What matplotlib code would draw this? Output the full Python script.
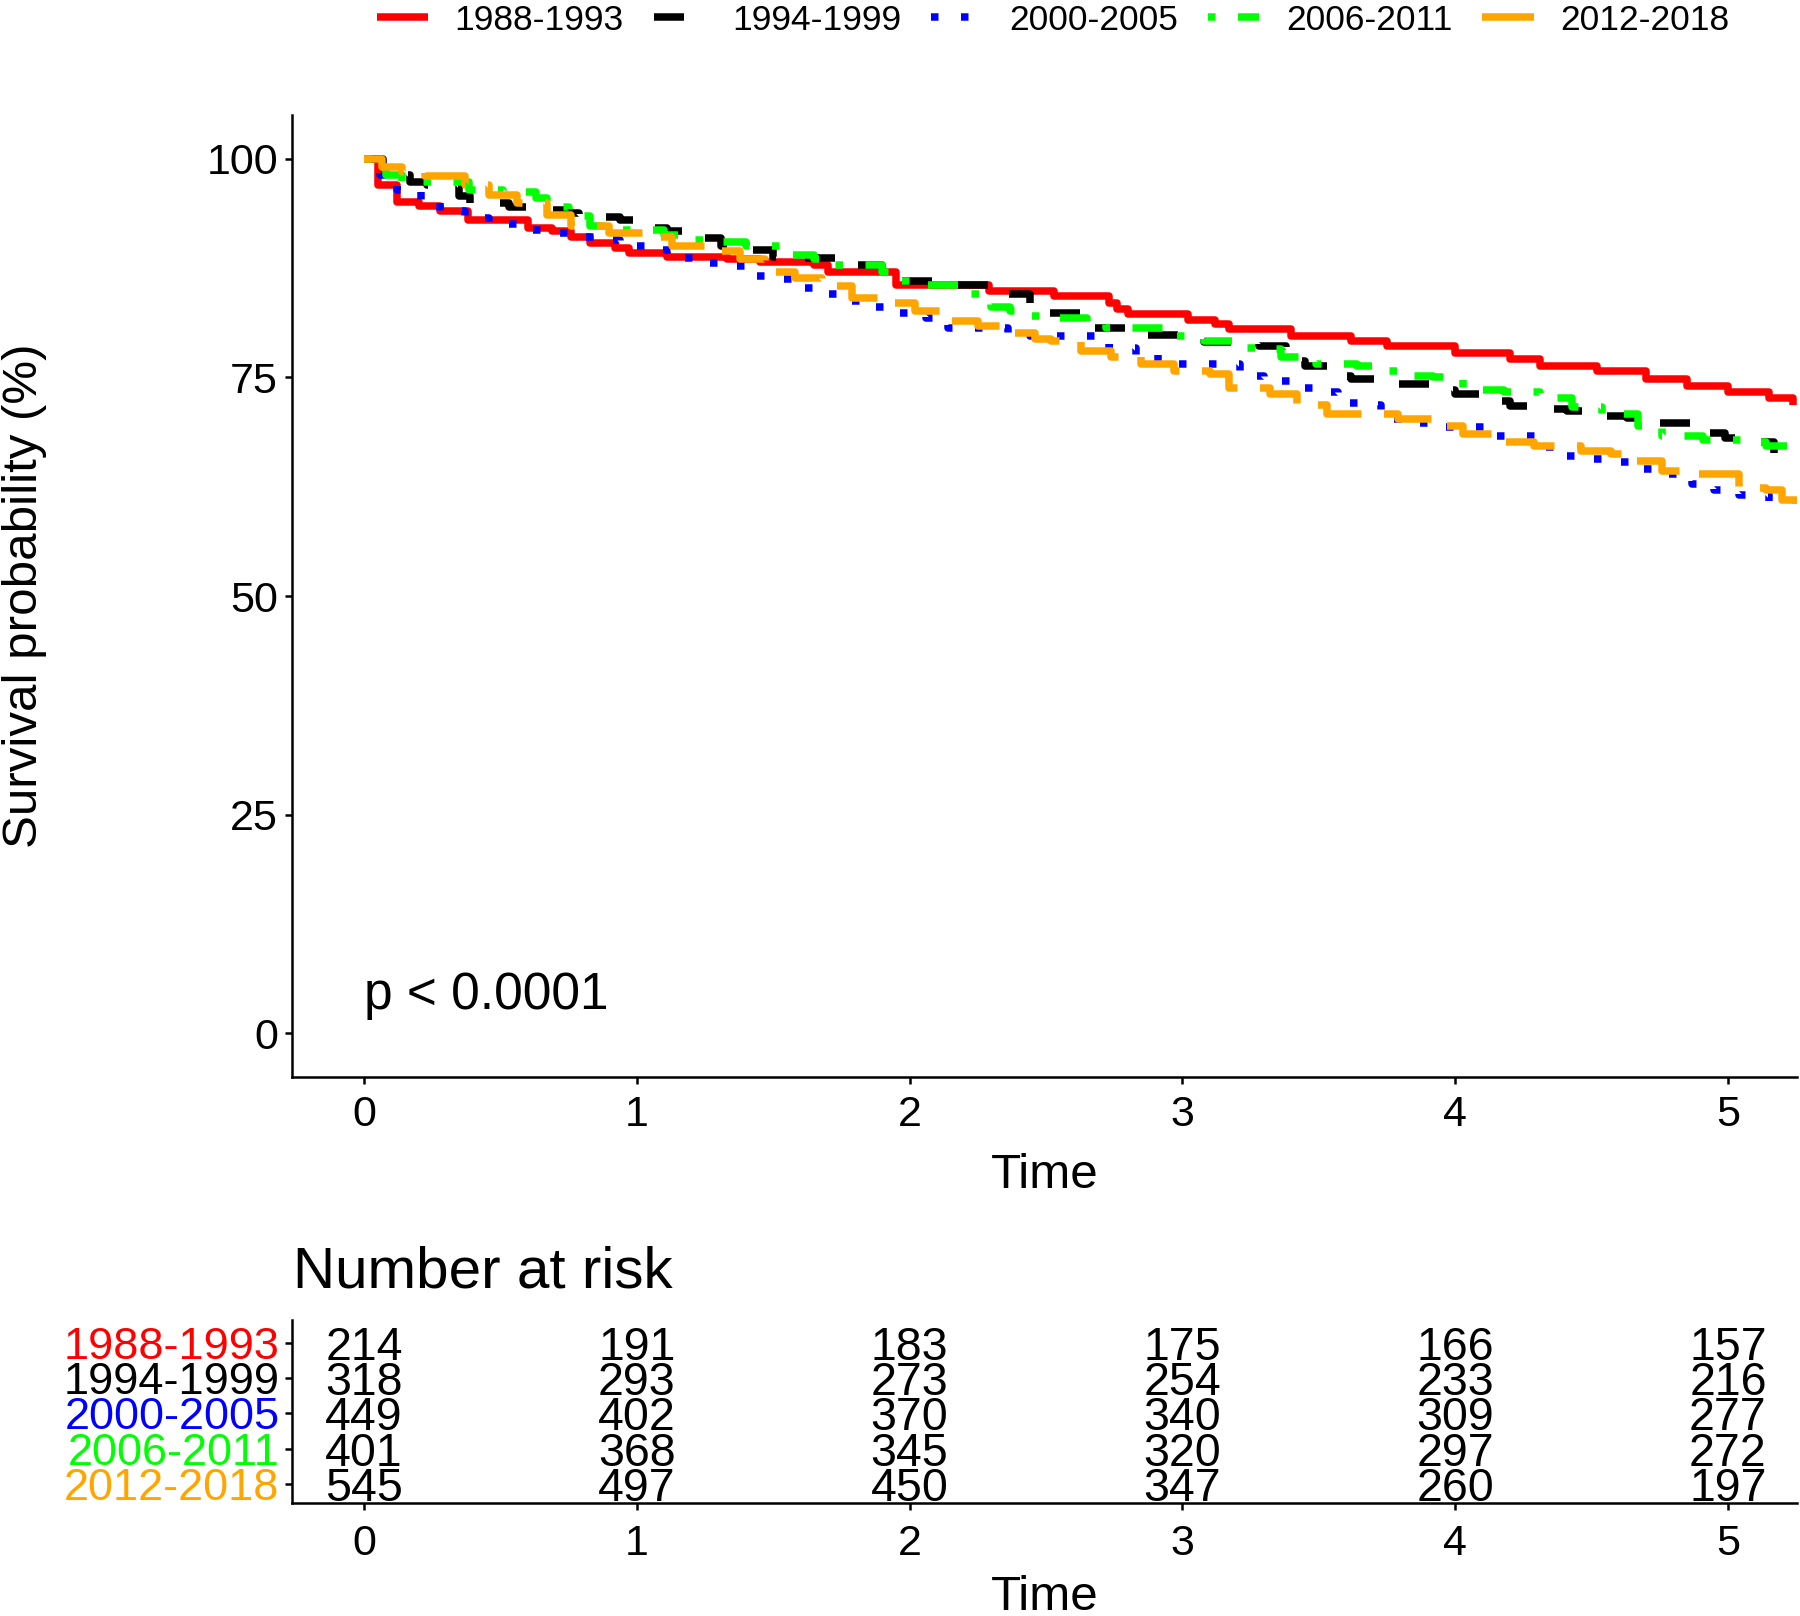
import matplotlib
matplotlib.use("Agg")
import matplotlib.pyplot as plt

plt.rcParams['font.family'] = ['Liberation Sans', 'DejaVu Sans']

# Kaplan-Meier curves: (time, survival %)
km_1988 = [(0, 100), (0.05, 97.0), (0.12, 95.1), (0.2, 94.6), (0.28, 94.0), (0.38, 93.0),
           (0.6, 92.1), (0.69, 91.7), (0.76, 91.0), (0.83, 90.4), (0.92, 89.8), (0.97, 89.2),
           (1.11, 88.8), (1.33, 88.5), (1.45, 88.2), (1.65, 87.9), (1.70, 87.0), (1.95, 85.6),
           (2.29, 84.9), (2.53, 84.3), (2.73, 83.5), (2.76, 82.8), (2.80, 82.2), (3.02, 81.6),
           (3.12, 81.1), (3.17, 80.5), (3.40, 79.7), (3.62, 79.2), (3.75, 78.6), (4.0, 77.8),
           (4.2, 77.1), (4.31, 76.3), (4.52, 75.7), (4.70, 74.8), (4.85, 74.0), (5.0, 73.3),
           (5.15, 72.7), (5.24, 71.9)]
km_1994 = [(0, 100), (0.07, 98.2), (0.17, 97.4), (0.23, 97.0), (0.35, 95.7), (0.39, 94.9),
           (0.53, 94.5), (0.6, 94.2), (0.74, 93.8), (0.79, 93.4), (0.94, 93.0), (0.99, 92.1),
           (1.11, 91.7), (1.17, 90.9), (1.31, 90.0), (1.36, 89.6), (1.5, 88.8), (1.54, 88.6),
           (1.74, 87.9), (1.9, 87.0), (1.95, 86.0), (2.13, 85.6), (2.29, 84.5), (2.44, 83.4),
           (2.5, 82.4), (2.63, 81.6), (2.67, 80.7), (2.8, 80.3), (2.87, 79.9), (3.08, 79.0),
           (3.28, 78.6), (3.38, 76.9), (3.45, 76.3), (3.55, 75.2), (3.62, 74.8), (3.75, 74.2),
           (3.96, 73.6), (4.0, 73.1), (4.14, 72.3), (4.2, 71.7), (4.33, 71.4), (4.41, 71.2),
           (4.54, 70.6), (4.63, 70.4), (4.74, 69.8), (4.93, 68.7), (4.99, 68.1), (5.1, 67.6),
           (5.17, 66.4)]
km_2000 = [(0, 100), (0.03, 99.0), (0.06, 98.2), (0.12, 96.4), (0.21, 95.3), (0.28, 94.0),
           (0.37, 93.2), (0.46, 92.6), (0.56, 91.9), (0.65, 91.5), (0.76, 91.1), (0.85, 90.7),
           (0.94, 90.0), (1.05, 89.6), (1.14, 88.6), (1.23, 88.1), (1.34, 87.7), (1.41, 86.6),
           (1.51, 86.2), (1.59, 85.2), (1.69, 84.5), (1.77, 83.7), (1.87, 83.1), (1.96, 82.4),
           (2.06, 81.8), (2.14, 80.7), (2.36, 79.9), (2.44, 79.7), (2.73, 78.4), (2.83, 77.6),
           (2.91, 76.5), (3.21, 75.2), (3.3, 74.6), (3.4, 73.8), (3.49, 73.3), (3.57, 72.1),
           (3.66, 71.8), (3.73, 70.2), (3.83, 69.8), (3.92, 69.3), (4.13, 68.3), (4.31, 67.0),
           (4.41, 66.0), (4.5, 65.7), (4.59, 65.3), (4.69, 64.5), (4.78, 63.9), (4.87, 62.8),
           (4.95, 62.1), (5.04, 61.5), (5.15, 60.9)]
km_2006 = [(0, 100), (0.08, 98.2), (0.14, 97.4), (0.385, 96.4), (0.51, 96.2), (0.63, 95.5),
           (0.67, 94.5), (0.75, 93.5), (0.83, 92.3), (0.94, 91.9), (1.1, 91.3), (1.17, 90.7),
           (1.27, 90.5), (1.4, 90.0), (1.54, 89.0), (1.65, 88.5), (1.72, 87.9), (1.9, 87.1),
           (1.97, 86.0), (2.06, 85.6), (2.18, 84.5), (2.3, 83.1), (2.37, 82.6), (2.44, 82.0),
           (2.55, 81.8), (2.65, 81.4), (2.72, 80.7), (2.93, 79.7), (3.08, 79.2), (3.23, 78.4),
           (3.28, 78.2), (3.36, 77.3), (3.49, 76.5), (3.64, 76.3), (3.75, 75.7), (3.81, 75.2),
           (3.92, 75.0), (4.03, 73.6), (4.18, 73.3), (4.31, 72.7), (4.43, 71.6), (4.54, 70.8),
           (4.67, 69.5), (4.76, 68.3), (4.91, 67.9), (5.06, 67.6), (5.14, 67.2), (5.23, 66.8)]
km_2012 = [(0, 100), (0.065, 99.1), (0.14, 98.5), (0.225, 98.0), (0.37, 97.0), (0.46, 95.9),
           (0.56, 94.9), (0.67, 93.6), (0.76, 92.3), (0.9, 91.5), (1.04, 91.0), (1.13, 90.0),
           (1.26, 89.4), (1.38, 88.5), (1.47, 87.1), (1.58, 86.4), (1.68, 85.4), (1.79, 84.1),
           (1.91, 83.5), (2.02, 82.6), (2.14, 81.4), (2.25, 80.9), (2.38, 80.1), (2.46, 79.4),
           (2.52, 79.2), (2.63, 78.0), (2.74, 77.3), (2.85, 76.5), (2.97, 75.7), (3.1, 75.4),
           (3.17, 73.8), (3.32, 73.1), (3.42, 71.9), (3.53, 70.8), (3.79, 70.2), (3.92, 69.5),
           (4.03, 68.5), (4.16, 67.6), (4.29, 67.2), (4.46, 66.6), (4.57, 66.2), (4.65, 65.5),
           (4.76, 64.3), (4.85, 63.9), (5.04, 62.4), (5.14, 62.1), (5.2, 61.0), (5.25, 60.5)]

groups = ['1988-1993', '1994-1999', '2000-2005', '2006-2011', '2012-2018']
curves = [km_1988, km_1994, km_2000, km_2006, km_2012]
colors = ['#FF0000', '#000000', '#0000FF', '#00FF00', '#FFA500']
dashes = [None, (4, 4), (1, 3), (1, 3, 4, 3), (7, 3)]

risk_times = [0, 1, 2, 3, 4, 5]
at_risk = [
    [214, 191, 183, 175, 166, 157],
    [318, 293, 273, 254, 233, 216],
    [449, 402, 370, 340, 309, 277],
    [401, 368, 345, 320, 297, 272],
    [545, 497, 450, 347, 260, 197],
]
pval_text = 'p < 0.0001'

fig = plt.figure(figsize=(18, 16.16), dpi=100, facecolor='w')
ax = fig.add_axes([0.1622, 0.3335, 0.8361, 0.5953])

handles = []
for pts, col, dsh, lab in zip(curves, colors, dashes, groups):
    t = [p[0] for p in pts]
    s = [p[1] for p in pts]
    line, = ax.plot(t, s, drawstyle='steps-post', color=col, lw=5.4, label=lab,
                    solid_capstyle='butt', dash_capstyle='butt')
    if dsh is not None:
        line.set_dashes(dsh)
    handles.append(line)

ax.set_xlim(-0.264, 5.253)
ax.set_ylim(-5, 105)
ax.set_xticks(risk_times)
ax.set_yticks([0, 25, 50, 75, 100])
ax.set_xlabel('Time', fontsize=35.5, labelpad=13)
ax.set_ylabel('Survival probability (%)', fontsize=35.5)
ax.yaxis.set_label_coords(-0.163, 0.5)
for side in ['top', 'right']:
    ax.spines[side].set_visible(False)
for side in ['left', 'bottom']:
    ax.spines[side].set_linewidth(1.8)
ax.tick_params(labelsize=31, width=1.8, length=5)
ax.tick_params(axis='x', pad=8)
ax.tick_params(axis='y', pad=5)
ax.text(0, 2.8, pval_text, fontsize=37, va='baseline', ha='left')

fig.legend(handles=handles, labels=groups, ncol=5, loc='center',
           bbox_to_anchor=(0.585, 0.9875), frameon=False, fontsize=25.5,
           handlelength=1.45, handletextpad=0.75, columnspacing=0.85)

# risk table
rt = fig.add_axes([0.1622, 0.0699, 0.8361, 0.1132])
rt.set_xlim(-0.264, 5.253)
rt.set_ylim(0.45, 5.65)
rows = [5, 4, 3, 2, 1]
for r, counts in zip(rows, at_risk):
    for x, n in zip(risk_times, counts):
        rt.text(x, r, str(n), ha='center', va='center_baseline', fontsize=33.5)
rt.set_yticks(rows)
rt.set_yticklabels(groups)
for lbl, col in zip(rt.get_yticklabels(), colors):
    lbl.set_color(col)
rt.set_xticks(risk_times)
rt.set_xlabel('Time', fontsize=35.5, labelpad=8)
for side in ['top', 'right']:
    rt.spines[side].set_visible(False)
for side in ['left', 'bottom']:
    rt.spines[side].set_linewidth(1.8)
rt.tick_params(axis='x', labelsize=31, width=1.8, length=5, pad=10)
rt.tick_params(axis='y', labelsize=32.5, width=1.8, length=5, pad=4)
fig.text(0.163, 0.203, 'Number at risk', fontsize=42, va='baseline', ha='left')

fig.savefig('out.png', dpi=100, facecolor='w')
